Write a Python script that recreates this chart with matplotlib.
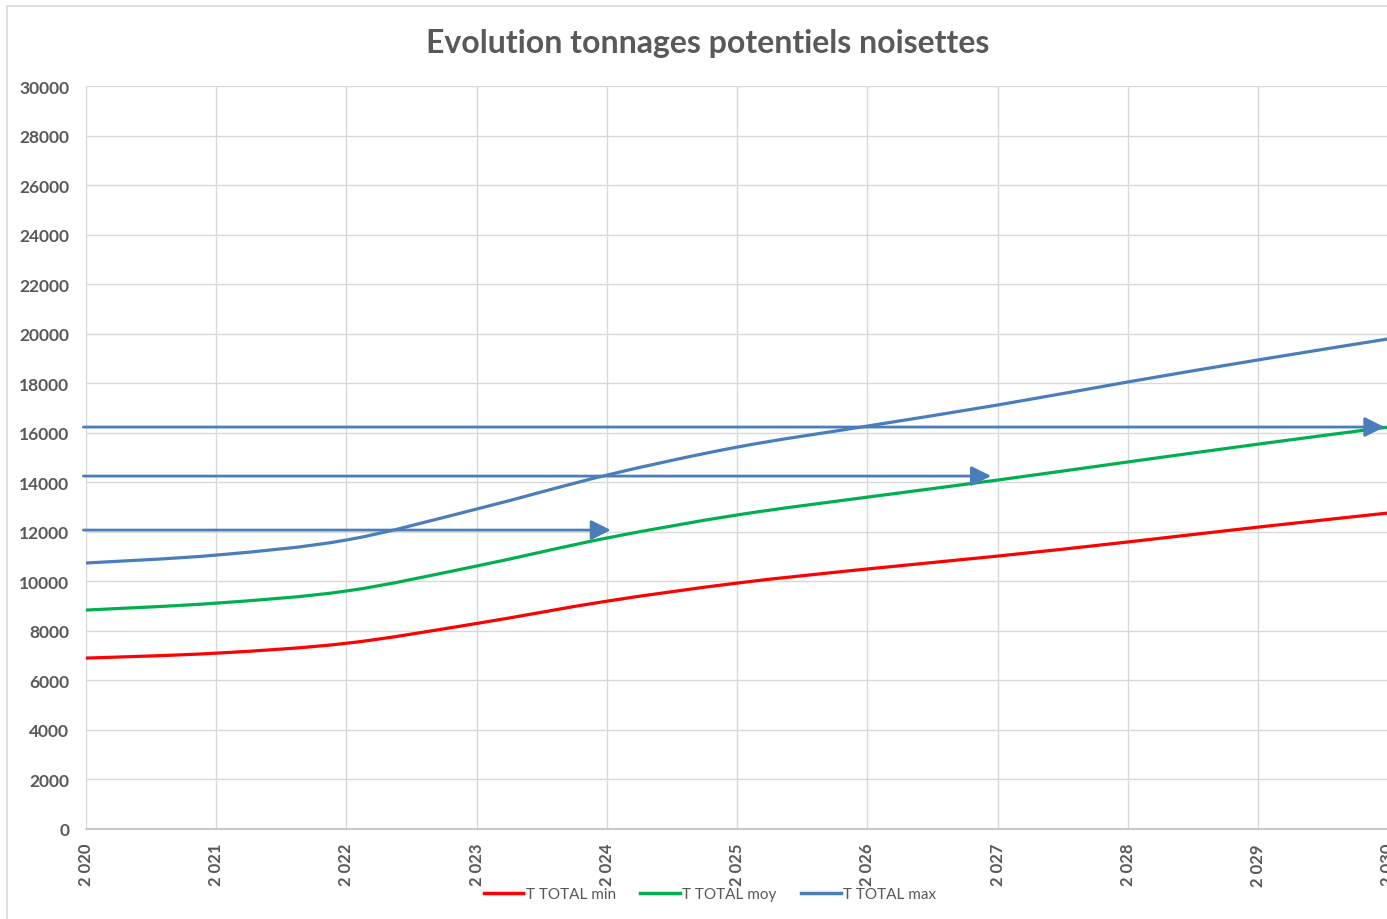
import matplotlib.pyplot as plt
from matplotlib.path import Path
from matplotlib.patches import PathPatch, Rectangle
from matplotlib.lines import Line2D

plt.rcParams['font.family'] = ['Lato', 'DejaVu Sans']

years = [2020, 2021, 2022, 2023, 2024, 2025, 2026, 2027, 2028, 2029, 2030]
t_min = [6900, 7100, 7500, 8300, 9200, 9930, 10500, 11020, 11590, 12190, 12760]
t_moy = [8840, 9120, 9610, 10620, 11750, 12680, 13400, 14090, 14820, 15540, 16230]
t_max = [10740, 11060, 11670, 12920, 14290, 15420, 16270, 17120, 18050, 18940, 19790]
series = [("T TOTAL min", t_min, "#FF0000"),
          ("T TOTAL moy", t_moy, "#00B050"),
          ("T TOTAL max", t_max, "#4A7EBB")]

# horizontal arrows: (level, x end)
arrow_levels = [12070, 14250, 16230]
arrow_ends = [2024.03, 2026.95, 2029.97]

gray = "#595959"
blue = "#4A7EBB"


def smooth_path(xs, ys):
    # Excel-like smoothed line: Catmull-Rom converted to cubic Bezier segments
    pts = list(zip(xs, ys))
    verts = [pts[0]]
    codes = [Path.MOVETO]
    n = len(pts)
    for i in range(n - 1):
        p0 = pts[i - 1] if i > 0 else pts[i]
        p1 = pts[i]
        p2 = pts[i + 1]
        p3 = pts[i + 2] if i + 2 < n else pts[i + 1]
        c1 = (p1[0] + (p2[0] - p0[0]) / 6, p1[1] + (p2[1] - p0[1]) / 6)
        c2 = (p2[0] - (p3[0] - p1[0]) / 6, p2[1] - (p3[1] - p1[1]) / 6)
        verts += [c1, c2, p2]
        codes += [Path.CURVE4] * 3
    return Path(verts, codes)


fig = plt.figure(figsize=(13.87, 9.2), dpi=100)
fig.patches.append(Rectangle((7 / 1387, -0.01), 1.1, 1 - 7 / 920 + 0.01, transform=fig.transFigure,
                             fill=False, edgecolor="#d9d9d9", lw=1.2))
ax = fig.add_axes([86 / 1387, 1 - 830 / 920, 1 - 86 / 1387 + 0.001, (830 - 87) / 920])

for name, vals, col in series:
    ax.add_patch(PathPatch(smooth_path(years, vals), fill=False, edgecolor=col, lw=2.3,
                           capstyle='butt', zorder=3))

for lvl, xe in zip(arrow_levels, arrow_ends):
    ax.annotate('', xy=(xe, lvl), xytext=(2019.98, lvl), annotation_clip=False,
                arrowprops=dict(arrowstyle='-|>,head_length=0.6,head_width=0.3', color=blue,
                                lw=2, mutation_scale=20, shrinkA=0, shrinkB=0), zorder=4)

ax.set_xlim(2020, 2030)
ax.set_ylim(0, 30000)
ax.set_xticks(years)
ax.set_xticklabels([f"{y // 1000} {y % 1000:03d}" for y in years], rotation=90,
                   fontsize=12, fontweight='bold', color=gray)
ax.set_yticks(range(0, 30001, 2000))
ax.set_yticklabels([str(v) for v in range(0, 30001, 2000)], fontsize=12.5,
                   fontweight='bold', color=gray)
ax.tick_params(length=0)
ax.tick_params(axis='y', pad=12)
ax.tick_params(axis='x', pad=10)
ax.grid(True, color="#d9d9d9", lw=1)
ax.set_axisbelow(True)
for s in ['top', 'right', 'left']:
    ax.spines[s].set_visible(False)
ax.spines['bottom'].set_color("#bfbfbf")
ax.spines['bottom'].set_linewidth(1.2)

fig.text(708 / 1387, 1 - 43 / 920, "Evolution tonnages potentiels noisettes", ha='center', va='center',
         fontsize=23, fontweight='bold', color=gray)

handles = [Line2D([], [], color=c, lw=2.5) for _, _, c in series]
fig.legend(handles, [n for n, _, _ in series], loc='center', bbox_to_anchor=(710 / 1387, 1 - 895 / 920),
           ncol=3, frameon=False, fontsize=11, labelcolor=gray, handlelength=2.6,
           handletextpad=0.15, columnspacing=1.6)

fig.savefig("out.png", dpi=100)
